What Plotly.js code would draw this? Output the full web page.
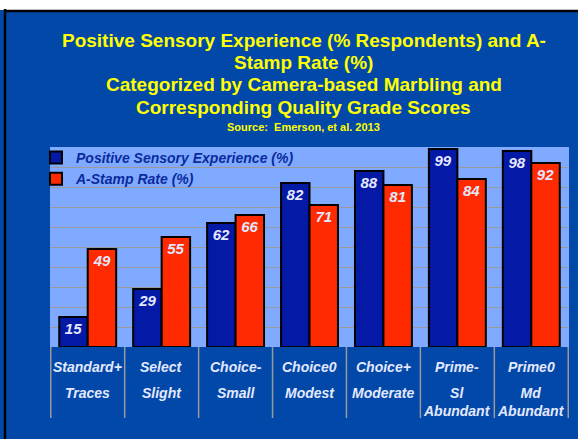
<!DOCTYPE html>
<html>
<head>
<meta charset="utf-8">
<script src="https://cdn.plot.ly/plotly-3.0.1.min.js"></script>
<style>
  html, body { margin: 0; padding: 0; background: #ffffff; }
  #chart { width: 578px; height: 439px; }
</style>
</head>
<body>
<div id="chart"></div>
<script>
// ---- data ----
const categories = ["Standard+ Traces", "Select Slight", "Choice- Small", "Choice0 Modest",
                    "Choice+ Moderate", "Prime- Sl Abundant", "Prime0 Md Abundant"];
const labelTop = ["Standard+", "Select", "Choice-", "Choice0", "Choice+", "Prime-", "Prime0"];
const labelBottom = ["Traces", "Slight", "Small", "Modest", "Moderate", "Sl<br>Abundant", "Md<br>Abundant"];
const positiveSensory = [15, 29, 62, 82, 88, 99, 98];
const aStampRate = [49, 55, 66, 71, 81, 84, 92];
const seriesNames = ["Positive Sensory Experience (%)", "A-Stamp Rate (%)"];
const titleLines = ["Positive Sensory Experience (% Respondents) and A-",
                    "Stamp Rate (%)",
                    "Categorized by Camera-based Marbling and",
                    "Corresponding Quality Grade Scores"];
const sourceText = "Source:  Emerson, et al. 2013";

const FONT = "Liberation Sans, Arial, Helvetica, sans-serif";
const BG = "#0148A8";
const PLOT_BG = "#80AAFF";
const BLUE_BAR = "#0419A6";
const RED_BAR = "#FF2A00";
const LABEL_LIGHT = "#E4E8FF";

const barText = {family: FONT, size: 15, color: LABEL_LIGHT, weight: "bold", style: "italic"};

const traces = [
  {
    type: "bar", name: seriesNames[0], x: categories, y: positiveSensory,
    marker: {color: BLUE_BAR, line: {color: "#000000", width: 2}},
    texttemplate: "%{y}", textposition: "inside", insidetextanchor: "end",
    textangle: 0, constraintext: "none", textfont: barText, hoverinfo: "skip"
  },
  {
    type: "bar", name: seriesNames[1], x: categories, y: aStampRate,
    marker: {color: RED_BAR, line: {color: "#000000", width: 2}},
    texttemplate: "%{y}", textposition: "inside", insidetextanchor: "end",
    textangle: 0, constraintext: "none", textfont: barText, hoverinfo: "skip"
  }
];

const annotations = [];
categories.forEach((c, i) => {
  annotations.push({
    x: c, xref: "x", y: -0.05, yref: "paper", yanchor: "top", xanchor: "center",
    text: labelTop[i], showarrow: false,
    font: {family: FONT, size: 14, color: LABEL_LIGHT, weight: "bold", style: "italic"}
  });
  annotations.push({
    x: c, xref: "x", y: -0.18, yref: "paper", yanchor: "top", xanchor: "center",
    text: labelBottom[i], showarrow: false,
    font: {family: FONT, size: 14, color: LABEL_LIGHT, weight: "bold", style: "italic"}
  });
});
// title lines (placed individually for the slide's tight line spacing)
const titleY = [1.535, 1.4215, 1.31, 1.195];
titleLines.forEach((t, i) => {
  annotations.push({
    x: 0.4894, xref: "paper", y: titleY[i], yref: "paper", xanchor: "center", yanchor: "middle",
    text: t, showarrow: false,
    font: {family: FONT, size: 19, color: "#FFFF00", weight: "bold"}
  });
});
annotations.push({
  x: 0.4894, xref: "paper", y: 1.1015, yref: "paper", xanchor: "center", yanchor: "middle",
  text: sourceText, showarrow: false,
  font: {family: FONT, size: 11, color: "#FFFF00", weight: "bold"}
});

const shapes = [];
// separators in the category label band
for (let k = 0; k <= categories.length; k++) {
  shapes.push({
    type: "line", xref: "x", yref: "paper", x0: k - 0.5, x1: k - 0.5, y0: 0, y1: -0.355,
    line: {color: "#9A9A9A", width: 1.5}, layer: "above"
  });
}
// slide frame: white top strip and black edges
shapes.push({type: "rect", xref: "paper", yref: "paper", x0: -0.2, x1: 1.1, y0: 1.685, y1: 1.8,
             fillcolor: "#ffffff", line: {width: 0}, layer: "below"});
shapes.push({type: "line", xref: "paper", yref: "paper", x0: -0.087, x1: 1.1, y0: 1.68, y1: 1.68,
             line: {color: "#000000", width: 2.5}});
shapes.push({type: "line", xref: "paper", yref: "paper", x0: -0.0867, x1: -0.0867, y0: 1.69, y1: -0.5,
             line: {color: "#000000", width: 2.5}});

const layout = {
  width: 578, height: 439,
  margin: {l: 50, r: 9, t: 147, b: 92, pad: 0},
  paper_bgcolor: BG, plot_bgcolor: PLOT_BG,
  font: {family: FONT},
  barmode: "group", bargap: 0.23, bargroupgap: 0,
  xaxis: {
    type: "category", categoryorder: "array", categoryarray: categories,
    showticklabels: false, showgrid: false, zeroline: false, showline: false, ticks: ""
  },
  yaxis: {
    range: [0, 100], dtick: 10, showticklabels: false, ticks: "",
    showgrid: true, gridcolor: "#9A9A9A", gridwidth: 1, zeroline: false, showline: false
  },
  showlegend: true,
  legend: {
    x: -0.027, xanchor: "left", y: 1.025, yanchor: "top",
    bgcolor: "rgba(0,0,0,0)", borderwidth: 0, tracegroupgap: 0, itemwidth: 30,
    font: {family: FONT, size: 14, color: "#0A2A9E", weight: "bold", style: "italic"}
  },
  annotations: annotations,
  shapes: shapes
};

Plotly.newPlot("chart", traces, layout, {displayModeBar: false, staticPlot: true});
</script>
</body>
</html>
